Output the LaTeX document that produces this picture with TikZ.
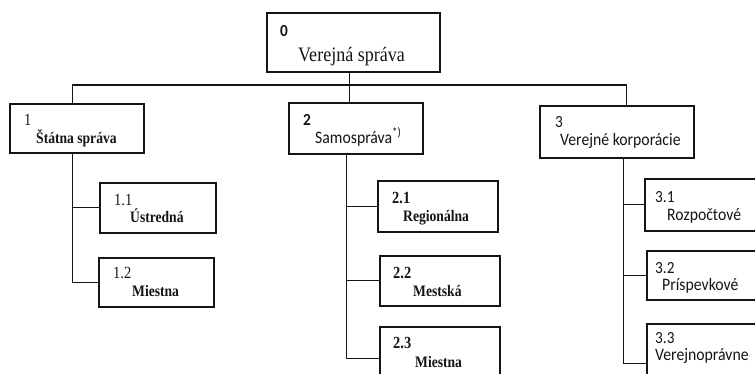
\documentclass[tikz,border=0pt]{standalone}
\usepackage{fontspec}
\setmainfont{Liberation Serif}
\newfontfamily\serc[FakeStretch=0.85]{Liberation Serif}
\newfontfamily\topf[FakeStretch=0.88]{Liberation Serif}
\newfontfamily\sanc[FakeStretch=0.9]{Carlito}
\begin{document}
\begin{tikzpicture}[x=1pt,y=-1pt,
  box/.style={draw=ink,line width=1.5pt,rectangle,inner sep=0pt,anchor=north west},
  wire/.style={draw=ink,line width=1.3pt},
  txt/.style={anchor=base west,inner sep=0pt,text=ink},
  numA/.style={txt,font=\serc\fontsize{17}{19}\selectfont},
  numAb/.style={txt,font=\serc\fontsize{17}{19}\selectfont\bfseries},
  labA/.style={txt,font=\serc\fontsize{16}{18}\selectfont\bfseries},
  numB/.style={txt,font=\sanc\fontsize{17}{19}\selectfont},
  labB/.style={txt,font=\sanc\fontsize{17.5}{20}\selectfont}]
\definecolor{ink}{HTML}{151515}
\useasboundingbox (0,0) rectangle (755,373);
\clip (0,0) rectangle (755,373);

% boxes
\node[box,minimum width=173pt,minimum height=59pt] (b0) at (266,12) {};
\node[box,minimum width=134pt,minimum height=49pt] (b1) at (9,103) {};
\node[box,minimum width=134pt,minimum height=51pt] (b2) at (288,102) {};
\node[box,minimum width=154pt,minimum height=52pt] (b3) at (539,105) {};
\node[box,minimum width=116pt,minimum height=50pt] (b11) at (99,182) {};
\node[box,minimum width=115pt,minimum height=49pt] (b12) at (98,257) {};
\node[box,minimum width=120pt,minimum height=51pt] (b21) at (377,180) {};
\node[box,minimum width=120pt,minimum height=50pt] (b22) at (379,255) {};
\node[box,minimum width=120pt,minimum height=64pt] (b23) at (379,326) {};
\node[box,minimum width=130pt,minimum height=52pt] (b31) at (644,178) {};
\node[box,minimum width=130pt,minimum height=49pt] (b32) at (646,250) {};
\node[box,minimum width=130pt,minimum height=80pt] (b33) at (646,323) {};

% texts
\node[txt,font=\sanc\fontsize{17}{19}\selectfont\bfseries] (n0) at (280,36) {0};
\node[txt,font=\topf\fontsize{20.5}{23}\selectfont] (l0) at (298,61) {Verejná správa};
\node[numA] (n1) at (24,125) {1};
\node[labA] (l1) at (36,143) {Štátna správa};
\node[txt,font=\sanc\fontsize{17}{19}\selectfont\bfseries] (n2) at (303,125) {2};
\node[labB] (l2) at (315,143) {Samospráva\textsuperscript{*)}};
\node[numB] (n3) at (555,127) {3};
\node[labB] (l3) at (560,145) {Verejné korporácie};
\node[numA] (n11) at (114,205) {1.1};
\node[labA] (l11) at (130,222) {Ústredná};
\node[numA] (n12) at (113,278) {1.2};
\node[labA] (l12) at (132,296) {Miestna};
\node[numAb] (n21) at (392,203) {2.1};
\node[labA] (l21) at (403,221) {Regionálna};
\node[numAb] (n22) at (393,278) {2.2};
\node[labA] (l22) at (413,296) {Mestská};
\node[numAb] (n23) at (393,348) {2.3};
\node[labA] (l23) at (415,367) {Miestna};
\node[numB] (n31) at (655,202) {3.1};
\node[labB] (l31) at (667,220) {Rozpočtové};
\node[numB] (n32) at (655,273) {3.2};
\node[labB] (l32) at (662,290) {Príspevkové};
\node[numB] (n33) at (655,343) {3.3};
\node[labB] (l33) at (655,360) {Verejnoprávne};

% connector anchor points
\coordinate (bus) at (0,85);
\coordinate (d0) at ([xshift=-3.5pt]b0.south);
\coordinate (u1) at ([xshift=-4pt]b1.north);
\coordinate (u2) at ([xshift=-6pt]b2.north);
\coordinate (u3) at ([xshift=10pt]b3.north);
\coordinate (d1) at ([xshift=-4pt]b1.south);
\coordinate (d2) at ([xshift=-9pt]b2.south);
\coordinate (d3) at ([xshift=7pt]b3.south);

% top level
\draw[wire] (d0) -- (d0 |- bus);
\draw[wire] (u1) -- (u1 |- bus) -- (u3 |- bus) -- (u3);
\draw[wire] (u2 |- bus) -- (u2);

% branch 1
\draw[wire] (d1) |- (b12.west);
\draw[wire] (d1 |- b11.west) -- (b11.west);
% branch 2
\draw[wire] (d2) |- (b23.west);
\draw[wire] (d2 |- b21.west) -- (b21.west);
\draw[wire] (d2 |- b22.west) -- (b22.west);
% branch 3
\draw[wire] (d3) |- (b33.west);
\draw[wire] (d3 |- b31.west) -- (b31.west);
\draw[wire] (d3 |- b32.west) -- (b32.west);
\end{tikzpicture}
\end{document}
